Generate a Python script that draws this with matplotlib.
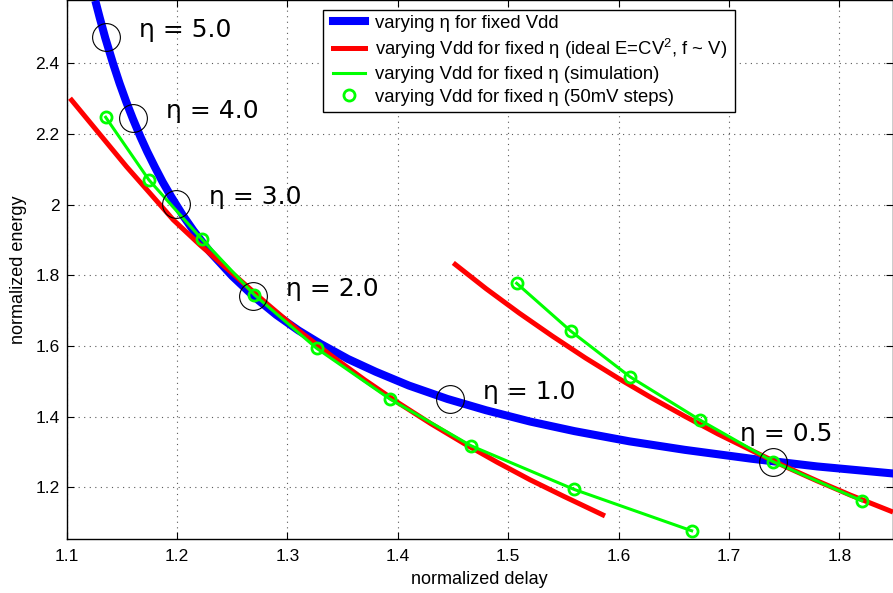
import matplotlib
matplotlib.use("Agg")
import matplotlib.pyplot as plt
from matplotlib.lines import Line2D
from matplotlib.patches import Rectangle

plt.rcParams['font.family'] = ['Liberation Sans', 'DejaVu Sans']
plt.rcParams['mathtext.fontset'] = 'custom'
plt.rcParams['mathtext.rm'] = 'Liberation Sans'
plt.rcParams['mathtext.it'] = 'Liberation Sans'

# ---- data ----
# varying eta for fixed Vdd (blue)
blue_delay = [1.126, 1.130, 1.135, 1.142, 1.148, 1.154, 1.160, 1.167, 1.173, 1.180,
              1.187, 1.195, 1.205, 1.215, 1.230, 1.250, 1.270, 1.290, 1.310, 1.330,
              1.355, 1.380, 1.410, 1.445, 1.480, 1.520, 1.560, 1.610, 1.660, 1.720,
              1.780, 1.849]
blue_energy = [2.577, 2.529, 2.472, 2.400, 2.343, 2.291, 2.243, 2.191, 2.150, 2.106,
               2.064, 2.021, 1.971, 1.926, 1.866, 1.798, 1.739, 1.688, 1.644, 1.606,
               1.563, 1.527, 1.488, 1.450, 1.418, 1.386, 1.359, 1.330, 1.306, 1.281,
               1.259, 1.239]

# varying Vdd for fixed eta, ideal (red) - two branches
red1_delay = [1.1031, 1.1544, 1.1750, 1.1966, 1.2208, 1.250, 1.2813, 1.310, 1.340, 1.370,
              1.400, 1.430, 1.460, 1.490, 1.520, 1.550, 1.5877]
red1_energy = [2.301, 2.107, 2.034, 1.957, 1.886, 1.806, 1.720, 1.644, 1.572, 1.504,
               1.440, 1.380, 1.324, 1.271, 1.221, 1.175, 1.119]
red2_delay = [1.4503, 1.480, 1.510, 1.540, 1.570, 1.600, 1.630, 1.660, 1.690, 1.720,
              1.750, 1.780, 1.810, 1.8486]
red2_energy = [1.835, 1.762, 1.693, 1.628, 1.566, 1.508, 1.453, 1.401, 1.351, 1.305,
               1.260, 1.218, 1.178, 1.130]

# varying Vdd for fixed eta, simulation in 50mV steps (green) - two branches
green1_delay = [1.1354, 1.1746, 1.2224, 1.2700, 1.3265, 1.3929, 1.4663, 1.5596, 1.6662]
green1_energy = [2.2472, 2.0697, 1.9027, 1.7450, 1.5933, 1.4498, 1.3176, 1.1942, 1.0770]
green2_delay = [1.5077, 1.5566, 1.6103, 1.6737, 1.7401, 1.8202]
green2_energy = [1.7773, 1.6423, 1.5129, 1.3904, 1.2724, 1.1620]

# eta markers on the blue curve
eta_values = [5.0, 4.0, 3.0, 2.0, 1.0, 0.5]
eta_delay = [1.1354, 1.1601, 1.1991, 1.2691, 1.4473, 1.7401]
eta_energy = [2.4753, 2.2443, 2.0010, 1.7414, 1.4504, 1.2724]

xticks = [1.1, 1.2, 1.3, 1.4, 1.5, 1.6, 1.7, 1.8]
xtick_labels = ['1.1', '1.2', '1.3', '1.4', '1.5', '1.6', '1.7', '1.8']
yticks = [1.2, 1.4, 1.6, 1.8, 2.0, 2.2, 2.4]
ytick_labels = ['1.2', '1.4', '1.6', '1.8', '2', '2.2', '2.4']

legend_labels = ['varying η for fixed Vdd',
                 'varying Vdd for fixed η (ideal E=CV$^2$, f ~ V)',
                 'varying Vdd for fixed η (simulation)',
                 'varying Vdd for fixed η (50mV steps)']

# ---- figure ----
W, H = 893, 593
fig = plt.figure(figsize=(W / 100, H / 100), dpi=100)
ax = fig.add_axes([66.6 / W, 54 / H, (W - 66.6) / W, 539 / H])

BLUE = '#0000ff'
RED = '#ff0000'
GREEN = '#00ff00'

ax.plot(blue_delay, blue_energy, color=BLUE, lw=5.8, solid_capstyle='butt', zorder=3)
ax.plot(red1_delay, red1_energy, color=RED, lw=3.6, solid_capstyle='butt', zorder=4)
ax.plot(red2_delay, red2_energy, color=RED, lw=3.6, solid_capstyle='butt', zorder=4)
ax.plot(green1_delay, green1_energy, color=GREEN, lw=2.2, zorder=5)
ax.plot(green2_delay, green2_energy, color=GREEN, lw=2.2, zorder=5)
ax.plot(green1_delay, green1_energy, ls='none', marker='o', ms=8, mfc='none',
        mec=GREEN, mew=2.0, zorder=6)
ax.plot(green2_delay, green2_energy, ls='none', marker='o', ms=8, mfc='none',
        mec=GREEN, mew=2.0, zorder=6)
ax.plot(eta_delay, eta_energy, ls='none', marker='o', ms=20, mfc='none',
        mec='black', mew=0.8, zorder=7)

for eta, d, e in zip(eta_values, eta_delay, eta_energy):
    off = (-33, 21) if eta == 0.5 else (33, 0)
    ax.annotate(f'η = {eta:.1f}', xy=(d, e), xytext=off, textcoords='offset pixels',
                fontsize=18, family=['DejaVu Sans'], va='baseline', ha='left',
                color='black', zorder=8)

ax.set_xlim(1.1, 1.8486)
ax.set_ylim(1.0537, 2.579)
ax.set_xticks(xticks)
ax.set_xticklabels(xtick_labels)
ax.set_yticks(yticks)
ax.set_yticklabels(ytick_labels)
ax.tick_params(direction='in', length=5, width=0.8, top=True, right=True,
               labelsize=12.5, colors='black')
ax.tick_params(axis='x', pad=7)
ax.tick_params(axis='y', pad=5)
ax.grid(True, ls=(0, (1, 4)), color='0.35', lw=0.8)
ax.set_axisbelow(True)
for s in ax.spines.values():
    s.set_linewidth(1.0)
    s.set_color('black')

ax.set_xlabel('normalized delay', fontsize=13, labelpad=5)
ax.set_ylabel('normalized energy', fontsize=13, labelpad=6)

# legend box (MATLAB style)
box = Rectangle((323 / W, 1 - 112 / H), 412 / W, 102 / H, transform=fig.transFigure,
                facecolor='white', edgecolor='black', lw=1.0, zorder=9, clip_on=False)
ax.add_patch(box)

handles = [Line2D([], [], color=BLUE, lw=5.8),
           Line2D([], [], color=RED, lw=3.6),
           Line2D([], [], color=GREEN, lw=2.2),
           Line2D([], [], ls='none', marker='o', ms=8, mfc='none', mec=GREEN, mew=2.0)]
leg = ax.legend(handles, legend_labels, loc='upper left',
                bbox_to_anchor=(333 / W, 1 - 14.5 / H), bbox_transform=fig.transFigure,
                borderaxespad=0, borderpad=0, fontsize=13.3, frameon=False,
                handlelength=1.73, handletextpad=0.54, labelspacing=0.29)
leg.set_zorder(10)

fig.savefig('out.png', dpi=100)
